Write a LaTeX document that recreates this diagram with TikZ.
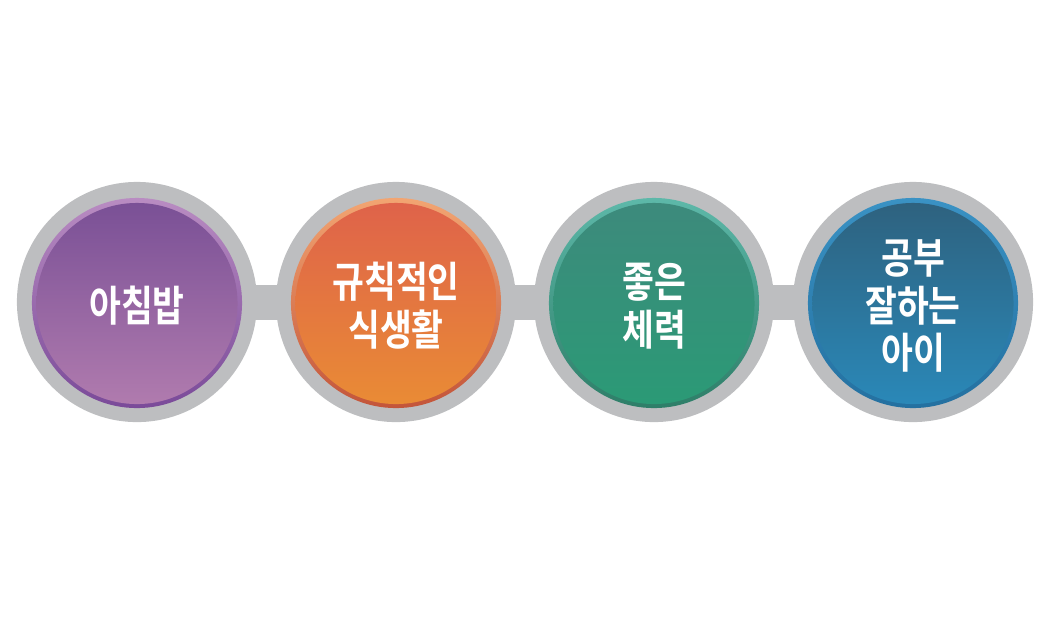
\documentclass[tikz,border=0pt]{standalone}
\usepackage{fontspec}
\usepackage{tikz}
\usetikzlibrary{backgrounds}
\newfontfamily\krfont[FakeStretch=0.82]{Noto Sans CJK KR Bold}

\definecolor{ringgray}{HTML}{BDBEC0}
\definecolor{purpleA}{HTML}{7A5096}\definecolor{purpleB}{HTML}{B07BAE}
\definecolor{purpleL}{HTML}{B98CC2}\definecolor{purpleD}{HTML}{7A4A99}
\definecolor{orangeA}{HTML}{DF634A}\definecolor{orangeB}{HTML}{E98B35}
\definecolor{orangeL}{HTML}{F2A572}\definecolor{orangeD}{HTML}{C3553A}
\definecolor{greenA}{HTML}{3D8A7C}\definecolor{greenB}{HTML}{2B9A76}
\definecolor{greenL}{HTML}{5DB8A9}\definecolor{greenD}{HTML}{2E7E68}
\definecolor{blueA}{HTML}{2E627F}\definecolor{blueB}{HTML}{2A88B8}
\definecolor{blueL}{HTML}{3A92C4}\definecolor{blueD}{HTML}{2470A0}

\begin{document}
\begin{tikzpicture}[x=0.01cm, y=-0.01cm,
	ring/.style={circle, fill=ringgray, minimum size=2.4cm, inner sep=0pt},
	rim/.style 2 args={circle, minimum size=2.1cm, inner sep=0pt, top color=#1, bottom color=#2},
	disk/.style 2 args={circle, minimum size=2.01cm, inner sep=0pt, top color=#1, bottom color=#2},
	label/.style={text=white, align=center, font=\krfont\fontsize{12pt}{13.6pt}\selectfont},
	bar/.style={draw=ringgray, line width=3.5mm, shorten <=-6pt, shorten >=-6pt}]
	\useasboundingbox (0,0) rectangle (1063,623);
	\node[ring] (r1) at (137,302) {};
	\node[ring] (r2) at (396,302) {};
	\node[ring] (r3) at (654,302) {};
	\node[ring] (r4) at (913,302) {};
	\begin{scope}[on background layer]
		\draw[bar] (r1) -- (r2);
		\draw[bar] (r2) -- (r3);
		\draw[bar] (r3) -- (r4);
	\end{scope}
	\node[rim={purpleL}{purpleD}] (m1) at (137,303) {};
	\node[rim={orangeL}{orangeD}] (m2) at (396,303) {};
	\node[rim={greenL}{greenD}] (m3) at (654,303) {};
	\node[rim={blueL}{blueD}] (m4) at (913,303) {};
	\node[disk={purpleA}{purpleB}] (d1) at (137,303.5) {};
	\node[disk={orangeA}{orangeB}] (d2) at (396,303.5) {};
	\node[disk={greenA}{greenB}] (d3) at (654,303.5) {};
	\node[disk={blueA}{blueB}] (d4) at (913,303.5) {};
	\node[label] (t1) at (137,306) {아침밥};
	\node[label] (t2) at (396,306) {규칙적인\\식생활};
	\node[label] (t3) at (654,306) {좋은\\체력};
	\node[label] (t4) at (913,306) {공부\\잘하는\\아이};
\end{tikzpicture}
\end{document}
